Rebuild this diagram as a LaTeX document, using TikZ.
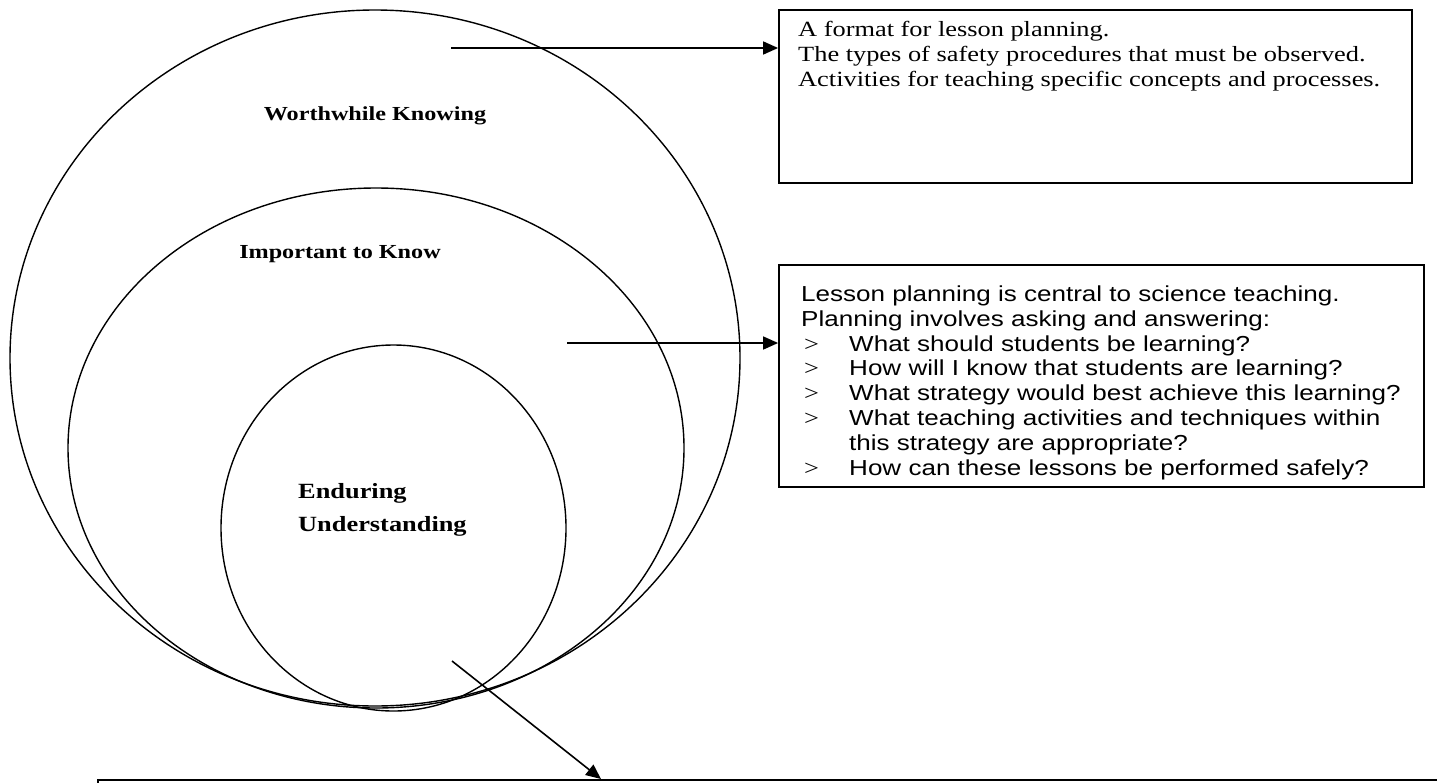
\documentclass[tikz,border=0pt]{standalone}
\usepackage{fontspec}
\setmainfont{Liberation Serif}[FakeStretch=1.215]
\newfontfamily\arialw{Liberation Sans}[FakeStretch=1.2]
\usetikzlibrary{shapes.geometric,arrows.meta,calc}
\newcommand{\bulgt}{\makebox[48pt][l]{\hspace*{3pt}{\rmfamily >}}}
\begin{document}
\begin{tikzpicture}[x=1pt,y=-1pt,
  ring/.style={draw, line width=1.4pt, ellipse, inner sep=0pt},
  textbox/.style={draw, line width=1.8pt, rectangle, inner sep=0pt},
  arrowline/.style={line width=1.6pt, -{Triangle[length=15pt,width=13pt]}},
  lbl/.style={font=\fontsize{19.9}{24}\selectfont\bfseries, inner sep=0pt},
  lblbig/.style={font=\fontsize{21.7}{33}\selectfont\bfseries, inner sep=0pt, align=left},
  serifbody/.style={font=\fontsize{21.7}{24.9}\selectfont, inner sep=0pt, align=left},
  sansbody/.style={font=\arialw\fontsize{21.7}{24.9}\selectfont, inner sep=0pt, align=left}]
\useasboundingbox (0,0) rectangle (1437,782);
\clip (0,0) rectangle (1437,782);

% rings
\node[ring, minimum width=730pt, minimum height=696pt] (outer) at (375,358) {};
\node[ring, minimum width=616pt, minimum height=520pt] (middle) at (376,448) {};
\node[ring, minimum width=345pt, minimum height=366pt] (inner) at (393.5,528) {};

% ring labels
\node[lbl, anchor=base] (wk) at (375,120) {Worthwhile Knowing};
\node[lbl, anchor=base] (ik) at (340,258) {Important to Know};
\node[lblbig, anchor=north west] (eu) at (298,482) {\rule{0pt}{16pt}Enduring\\Understanding};

% boxes
\node[textbox, minimum width=633pt, minimum height=173pt] (box1) at (1095.5,96.5) {};
\node[textbox, minimum width=645pt, minimum height=222pt] (box2) at (1101.5,376) {};
\node[textbox, anchor=north west, minimum width=1400pt, minimum height=100pt] (box3) at (97,779) {};

% box texts
\node[serifbody, anchor=north west] (t1) at (798,20) {\rule{0pt}{16pt}A format for lesson planning.\\The types of safety procedures that must be observed.\\Activities for teaching specific concepts and processes.};
\node[sansbody, anchor=north west] (t2) at (801,285) {\rule{0pt}{16pt}Lesson planning is central to science teaching.\\Planning involves asking and answering:\\\bulgt What should students be learning?\\\bulgt How will I know that students are learning?\\\bulgt What strategy would best achieve this learning?\\\bulgt What teaching activities and techniques within\\\hspace*{48pt}this strategy are appropriate?\\\bulgt How can these lessons be performed safely?};

% connectors
\coordinate (s1) at (451,48);
\coordinate (s2) at (567,343);
\coordinate (s3) at (452,661);
\coordinate (e3) at (601,779);
\draw[arrowline] (s1) -- (s1 -| box1.west);
\draw[arrowline] (s2) -- (s2 -| box2.west);
\draw[arrowline] (s3) -- (e3);
\end{tikzpicture}
\end{document}
